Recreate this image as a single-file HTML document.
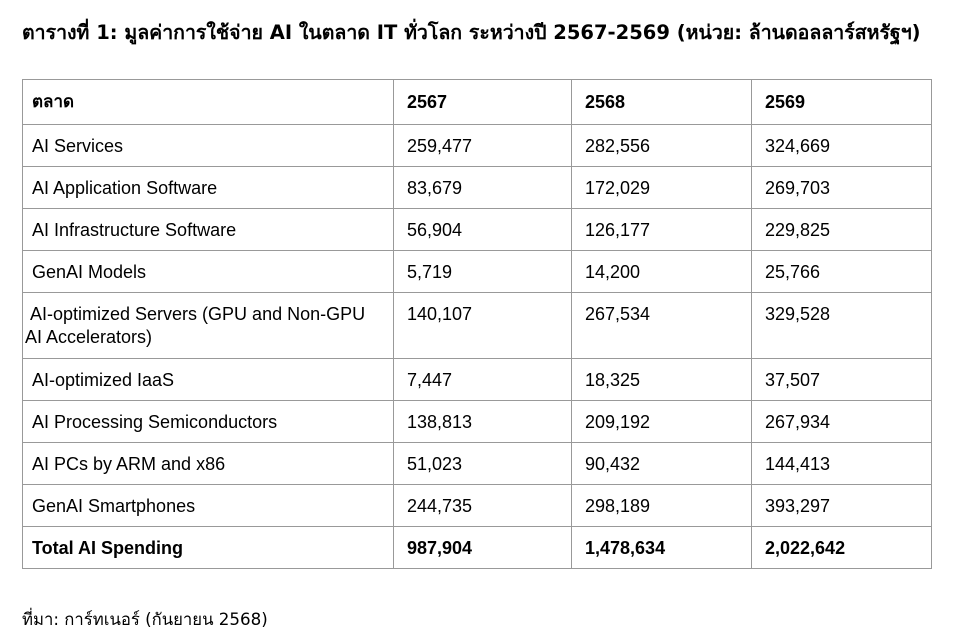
<!DOCTYPE html>
<html><head><meta charset="utf-8">
<style>
body{margin:0;width:955px;height:640px;background:#fff;font-family:"DejaVu Sans","Liberation Sans",sans-serif;color:#000;position:relative;overflow:hidden}
.t{position:absolute;left:22px;top:17px;font-size:19.5px;font-weight:bold;white-space:nowrap}
table{position:absolute;left:22px;top:79px;border-collapse:collapse;table-layout:fixed;font-family:"Liberation Sans","DejaVu Sans",sans-serif;font-size:18px}
td{border:1px solid #999;padding:0 0 0 9px;vertical-align:top;padding-top:10px;line-height:23px;white-space:nowrap}
td+td{padding-left:13px}
tr{height:42px}
tr.h{height:45px}
tr.h td{font-weight:bold;padding-top:11px}
tr.h td:first-child{font-family:"DejaVu Sans",sans-serif;font-size:17px}
tr.two{height:66px}
tr.tot td{font-weight:bold}
.src{position:absolute;left:22px;top:607px;font-size:16.7px;white-space:nowrap}
</style></head><body>
<div class="t">ตารางที่ 1: มูลค่าการใช้จ่าย AI ในตลาด IT ทั่วโลก ระหว่างปี 2567-2569 (หน่วย: ล้านดอลลาร์สหรัฐฯ)</div>
<table>
<colgroup><col style="width:371px"><col style="width:178px"><col style="width:180px"><col style="width:180px"></colgroup>
<tr class="h"><td>ตลาด</td><td>2567</td><td>2568</td><td>2569</td></tr>
<tr><td>AI Services</td><td>259,477</td><td>282,556</td><td>324,669</td></tr>
<tr><td>AI Application Software</td><td>83,679</td><td>172,029</td><td>269,703</td></tr>
<tr><td>AI Infrastructure Software</td><td>56,904</td><td>126,177</td><td>229,825</td></tr>
<tr><td>GenAI Models</td><td>5,719</td><td>14,200</td><td>25,766</td></tr>
<tr class="two"><td style="padding-left:2px">&nbsp;AI-optimized Servers (GPU and Non-GPU<br>AI Accelerators)</td><td>140,107</td><td>267,534</td><td>329,528</td></tr>
<tr><td>AI-optimized IaaS</td><td>7,447</td><td>18,325</td><td>37,507</td></tr>
<tr><td>AI Processing Semiconductors</td><td>138,813</td><td>209,192</td><td>267,934</td></tr>
<tr><td>AI PCs by ARM and x86</td><td>51,023</td><td>90,432</td><td>144,413</td></tr>
<tr><td>GenAI Smartphones</td><td>244,735</td><td>298,189</td><td>393,297</td></tr>
<tr class="tot"><td>Total AI Spending</td><td>987,904</td><td>1,478,634</td><td>2,022,642</td></tr>
</table>
<div class="src">ที่มา: การ์ทเนอร์ (กันยายน 2568)</div>
</body></html>
